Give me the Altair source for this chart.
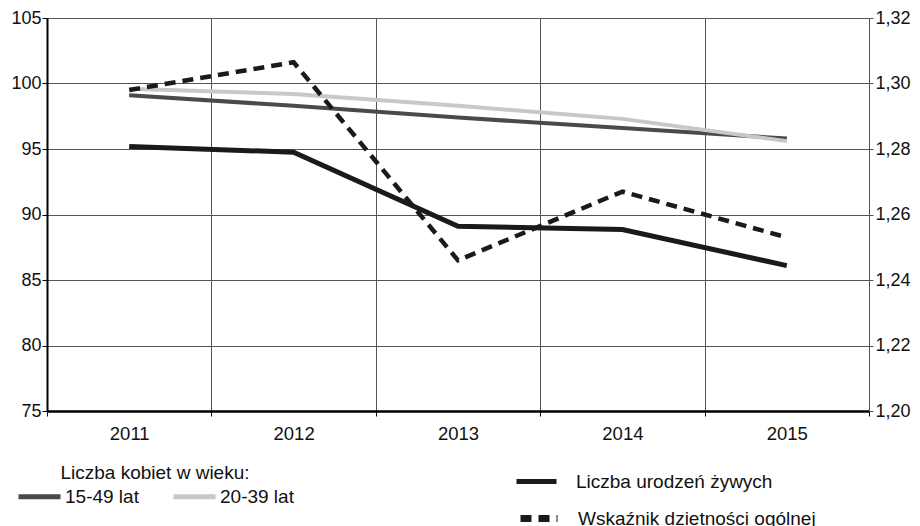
import altair as alt
import pandas as pd

years = ["2011", "2012", "2013", "2014", "2015"]
women_15_49 = [99.1, 98.3, 97.4, 96.6, 95.8]
women_20_39 = [99.6, 99.2, 98.3, 97.3, 95.6]
births = [95.2, 94.75, 89.1, 88.85, 86.1]
tfr = [1.298, 1.3065, 1.246, 1.267, 1.253]

women_names = ["15-49 lat", "20-39 lat"]
right_names = ["Liczba urodzeń żywych", "Wskaźnik dzietności ogólnej"]
left_ticks = [75, 80, 85, 90, 95, 100, 105]
right_ticks = [1.20, 1.22, 1.24, 1.26, 1.28, 1.30, 1.32]

FONT = "Liberation Sans"

women_df = pd.DataFrame({
    "year": years * 2,
    "value": women_15_49 + women_20_39,
    "series": [women_names[0]] * 5 + [women_names[1]] * 5,
})
births_df = pd.DataFrame({"year": years, "value": births, "series": [right_names[0]] * 5})
tfr_df = pd.DataFrame({"year": years, "value": tfr, "series": [right_names[1]] * 5})

x_enc = alt.X(
    "year:O",
    scale=alt.Scale(type="band", paddingInner=0, paddingOuter=0),
    axis=alt.Axis(
        title=None, labelAngle=0, labelFontSize=18.5, labelFont=FONT, labelColor="#111",
        tickBand="extent", grid=True, gridColor="#555", gridWidth=1,
        domainColor="#000", domainWidth=2.5, tickColor="#000", tickSize=5, labelPadding=8,
    ),
)

y_left = alt.Y(
    "value:Q",
    scale=alt.Scale(domain=[75, 105], nice=False, zero=False),
    axis=alt.Axis(
        title=None, values=left_ticks, labelFontSize=18, labelFont=FONT, labelColor="#111",
        grid=True, gridColor="#555", gridWidth=1, domainColor="#000", domainWidth=2,
        tickColor="#000", tickSize=5, labelPadding=1,
    ),
)

y_right = alt.Y(
    "value:Q",
    scale=alt.Scale(domain=[1.20, 1.32], nice=False, zero=False),
    axis=alt.Axis(
        title=None, orient="right", values=right_ticks, labelFontSize=18, labelFont=FONT,
        labelColor="#111", grid=False, domainColor="#555", domainWidth=1,
        tickColor="#555", tickSize=4, labelPadding=2,
        labelExpr="replace(format(datum.value, '.2f'), '.', ',')",
    ),
)

women = alt.Chart(women_df).mark_line(strokeWidth=4).encode(
    x=x_enc,
    y=y_left,
    color=alt.Color(
        "series:N",
        scale=alt.Scale(domain=women_names, range=["#4a4a4a", "#c8c8c8"]),
        legend=alt.Legend(
            title="Liczba kobiet w wieku:", orient="none", legendX=-31, legendY=446,
            direction="horizontal", titleAnchor="middle", symbolType="stroke",
            symbolSize=1764, symbolStrokeWidth=5, labelFontSize=19, labelFont=FONT,
            labelColor="#111", titleFontSize=19, titleFont=FONT, titleFontWeight="normal",
            titleColor="#111", titlePadding=-10, columnPadding=24, labelOffset=2,
            labelLimit=400, titleLimit=600,
        ),
    ),
)

births_line = alt.Chart(births_df).mark_line(color="#1a1a1a").encode(
    x=x_enc,
    y=y_left,
    strokeWidth=alt.StrokeWidth(
        "series:N",
        scale=alt.Scale(domain=[right_names[0]], range=[5, 5]),
        legend=alt.Legend(
            title=None, orient="none", legendX=467, legendY=441,
            symbolType="stroke", symbolSize=1600, symbolStrokeWidth=5,
            symbolStrokeColor="#1a1a1a", labelFontSize=19, labelFont=FONT,
            labelColor="#111", labelOffset=17, labelLimit=400,
        ),
    ),
)

tfr_line = alt.Chart(tfr_df).mark_line(strokeWidth=4.5, color="#1a1a1a").encode(
    x=x_enc,
    y=y_right,
    strokeDash=alt.StrokeDash(
        "series:N",
        scale=alt.Scale(domain=[right_names[1]], range=[[11, 7]]),
        legend=alt.Legend(
            title=None, orient="none", legendX=467, legendY=477,
            symbolType="stroke", symbolSize=1600, symbolStrokeWidth=7,
            symbolDash=[6, 10], symbolDashOffset=-3,
            symbolStrokeColor="#1a1a1a", labelFontSize=19, labelFont=FONT,
            labelColor="#111", labelOffset=17, labelLimit=400,
        ),
    ),
)

left = alt.layer(women, births_line)
chart = alt.layer(left, tfr_line).resolve_scale(y="independent").properties(
    width=822, height=393,
    autosize=alt.AutoSizeParams(type="none"),
    padding={"left": 39, "top": 10, "right": 43, "bottom": 115},
).configure_view(strokeWidth=0).configure(background="white")

chart.save("out.html", embed_options={"renderer": "svg", "actions": False})
